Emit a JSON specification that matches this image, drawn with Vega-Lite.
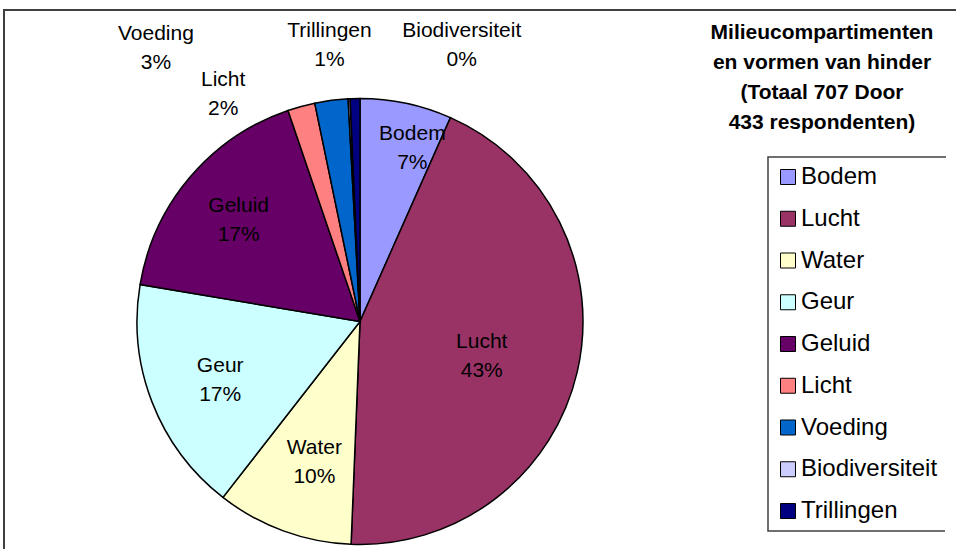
{
  "$schema": "https://vega.github.io/schema/vega-lite/v6.json",
  "autosize": "none",
  "width": 952,
  "height": 539,
  "padding": {"left": 4, "top": 10, "right": 0, "bottom": 0},
  "background": "white",
  "view": {"stroke": "#404040", "strokeWidth": 2, "fill": null, "strokeDash": [952, 1491, 539]},
  "title": {
    "text": ["Milieucompartimenten", "en vormen van hinder", "(Totaal 707 Door", "433 respondenten)"],
    "font": "Liberation Sans",
    "fontSize": 21,
    "fontWeight": "bold",
    "color": "black",
    "lineHeight": 30,
    "anchor": "middle",
    "dx": 342,
    "dy": 127
  },
  "data": {
    "values": [
      {"nr": 1, "cat": "Bodem", "count": 47, "label": "Bodem\n7%"},
      {"nr": 2, "cat": "Lucht", "count": 311, "label": "Lucht\n43%"},
      {"nr": 3, "cat": "Water", "count": 70, "label": "Water\n10%"},
      {"nr": 4, "cat": "Geur", "count": 121, "label": "Geur\n17%"},
      {"nr": 5, "cat": "Geluid", "count": 121, "label": "Geluid\n17%"},
      {"nr": 6, "cat": "Licht", "count": 14, "label": "Licht\n2%"},
      {"nr": 7, "cat": "Voeding", "count": 17, "label": "Voeding\n3%"},
      {"nr": 8, "cat": "Biodiversiteit", "count": 1, "label": "Biodiversiteit\n0%"},
      {"nr": 9, "cat": "Trillingen", "count": 5, "label": "Trillingen\n1%"}
    ]
  },
  "encoding": {
    "theta": {"field": "count", "type": "quantitative", "stack": true},
    "order": {"field": "nr", "type": "quantitative", "sort": "ascending"},
    "color": {
      "field": "cat",
      "type": "nominal",
      "sort": ["Bodem", "Lucht", "Water", "Geur", "Geluid", "Licht", "Voeding", "Biodiversiteit", "Trillingen"],
      "scale": {
        "domain": ["Bodem", "Lucht", "Water", "Geur", "Geluid", "Licht", "Voeding", "Biodiversiteit", "Trillingen"],
        "range": ["#9999FF", "#993366", "#FFFFCC", "#CCFFFF", "#660066", "#FF8080", "#0066CC", "#CCCCFF", "#000080"]
      },
      "legend": {
        "orient": "none",
        "legendX": 764,
        "legendY": 147,
        "title": null,
        "symbolType": "square",
        "symbolSize": 225,
        "symbolStrokeColor": "black",
        "symbolStrokeWidth": 1,
        "symbolOpacity": 1,
        "labelFont": "Liberation Sans",
        "labelFontSize": 24,
        "labelColor": "black",
        "labelOffset": 1,
        "labelLimit": 500,
        "padding": 8,
        "rowPadding": 17.75,
        "strokeColor": "#404040",
        "fillColor": "white",
        "encode": {
          "legend": {"update": {"strokeDash": {"value": [178, 375, 553]}, "strokeWidth": {"value": 1.5}}}
        }
      }
    }
  },
  "layer": [
    {
      "mark": {"type": "arc", "x": 356, "y": 311.5, "radius": 223, "stroke": "black", "strokeWidth": 1.5, "opacity": 1}
    },
    {
      "mark": {
        "type": "text",
        "x": 356,
        "y": 311.5,
        "font": "Liberation Sans",
        "fontSize": 21,
        "lineHeight": 29,
        "lineBreak": "\n",
        "align": "center",
        "baseline": "middle",
        "color": "black",
        "radius": {"expr": "datum.cat === 'Bodem' ? 185 : datum.cat === 'Lucht' ? 125 : (datum.cat === 'Licht' || datum.cat === 'Voeding' || datum.cat === 'Biodiversiteit' || datum.cat === 'Trillingen') ? 250 : 150"},
        "dx": {"expr": "datum.cat === 'Bodem' ? 14 : datum.cat === 'Water' ? 6 : datum.cat === 'Geluid' ? -7 : datum.cat === 'Voeding' ? -172 : datum.cat === 'Licht' ? -71 : datum.cat === 'Trillingen' ? -25 : datum.cat === 'Biodiversiteit' ? 114 : 0"},
        "dy": {"expr": "datum.cat === 'Bodem' ? -7 : datum.cat === 'Lucht' ? -8 : datum.cat === 'Water' ? -14 : datum.cat === 'Geur' ? -10 : datum.cat === 'Geluid' ? -18 : datum.cat === 'Voeding' ? -40 : datum.cat === 'Licht' ? 0 : datum.cat === 'Trillingen' ? -41 : datum.cat === 'Biodiversiteit' ? -41 : 0"}
      },
      "encoding": {
        "text": {"field": "label", "type": "nominal"},
        "color": {"value": "black"}
      }
    }
  ]
}
